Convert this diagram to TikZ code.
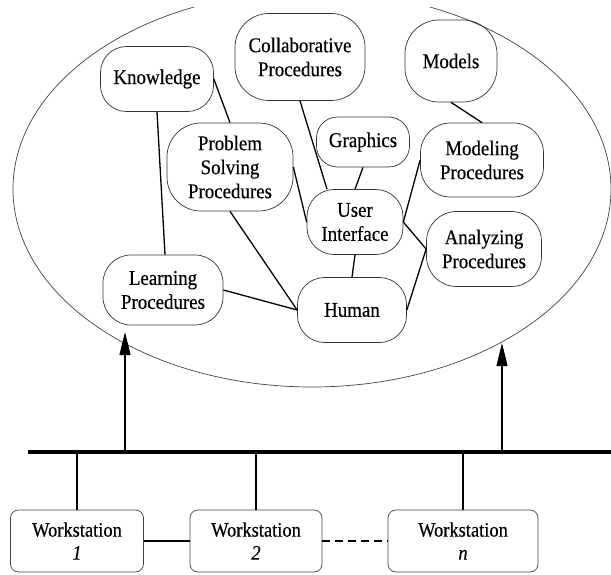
\documentclass[tikz,border=0pt]{standalone}
\usepackage{fontspec}
\setmainfont{Liberation Serif}[FakeStretch=0.9, FakeBold=0.4]
\usetikzlibrary{arrows.meta}
\begin{document}
\begin{tikzpicture}[x=1pt,y=-1pt,
  box/.style={draw=black!80, line width=0.7pt, rounded corners=#1, align=center,
    inner sep=0pt, font=\fontsize{21}{24}\selectfont},
  wsbox/.style={draw=black!75, line width=0.7pt, rounded corners=8pt, align=center,
    inner sep=0pt, minimum height=62pt, font=\fontsize{20.5}{23}\selectfont},
  link/.style={line width=1.3pt, black},
  outline/.style={line width=0.7pt, black!75},
  upar/.style={line width=1.2pt, -{Triangle[length=23pt,width=11pt]}}
]
\useasboundingbox (0,0) rectangle (611,575);

% big ellipse (clipped at the top like the reference)
\begin{scope}
  \clip (0,8) rectangle (611,575);
  \draw[outline] (312,189) ellipse [x radius=299pt, y radius=198pt];
\end{scope}

% nodes inside the ellipse
\node[box=26pt, minimum width=113pt, minimum height=65pt] (know) at (157,79) {Knowledge};
\node[box=34pt, minimum width=130pt, minimum height=87pt] (collab) at (300,57) {Collaborative\\Procedures};
\node[box=34pt, minimum width=92pt, minimum height=82pt] (models) at (451,61) {Models};
\node[box=34pt, minimum width=126pt, minimum height=88pt] (prob) at (230,167) {Problem\\Solving\\Procedures};
\node[box=21pt, minimum width=93pt, minimum height=50pt] (graph) at (363,142) {Graphics};
\node[box=30pt, minimum width=123pt, minimum height=74pt] (modeling) at (482,160) {Modeling\\Procedures};
\node[box=27pt, minimum width=96pt, minimum height=65pt] (ui) at (355,222) {User\\Interface};
\node[box=30pt, minimum width=115pt, minimum height=75pt] (analyz) at (484,249) {Analyzing\\Procedures};
\node[box=28pt, minimum width=120pt, minimum height=70pt] (learn) at (163,290) {Learning\\Procedures};
\node[box=27pt, minimum width=109pt, minimum height=65pt] (human) at (352,310) {Human};

% connectors inside the ellipse
\draw[link] (know.south) -- ([xshift=2pt]learn.north);
\draw[link] (know.east) -- (prob.north);
\draw[link] (prob.south) -- (human.west);
\draw[link] (learn.east) -- (human.west);
\draw[link] (prob.east) -- (ui.west);
\draw[link] (collab.south) -- ([xshift=-28pt]ui.north);
\draw[link] (graph.south) -- (ui.north);
\draw[link] (models.south) -- (modeling.north);
\draw[link] (ui.east) -- (modeling.west);
\draw[link] (ui.east) -- (analyz.west);
\draw[link] (analyz.west) -- (human.east);
\draw[link] (ui.south) -- (human.north);

% network bus
\coordinate (busL) at (28,452);
\coordinate (busR) at (611,452);
\draw[line width=4.5pt] (busL) -- (busR);

% arrows up to the ellipse
\coordinate (a1b) at (125,452);
\coordinate (a1t) at (125,332);
\coordinate (a2b) at (502,452);
\coordinate (a2t) at (502,343);
\draw[upar] (a1b) -- (a1t);
\draw[upar] (a2b) -- (a2t);

% workstations
\node[wsbox, minimum width=133pt] (ws1) at (77,541) {Workstation\\\textit{1}};
\node[wsbox, minimum width=132pt] (ws2) at (256,541) {Workstation\\\textit{2}};
\node[wsbox, minimum width=150pt] (wsn) at (463,541) {Workstation\\\textit{n}};

\draw[link] (ws1.north) -- (ws1.north |- busL);
\draw[link] (ws2.north) -- (ws2.north |- busL);
\draw[link] (wsn.north) -- (wsn.north |- busL);
\draw[link, line width=1.1pt] (ws1.east) -- (ws2.west);
\draw[link, line width=1.1pt, dash pattern=on 8pt off 5pt] (ws2.east) -- (wsn.west);
\end{tikzpicture}
\end{document}
